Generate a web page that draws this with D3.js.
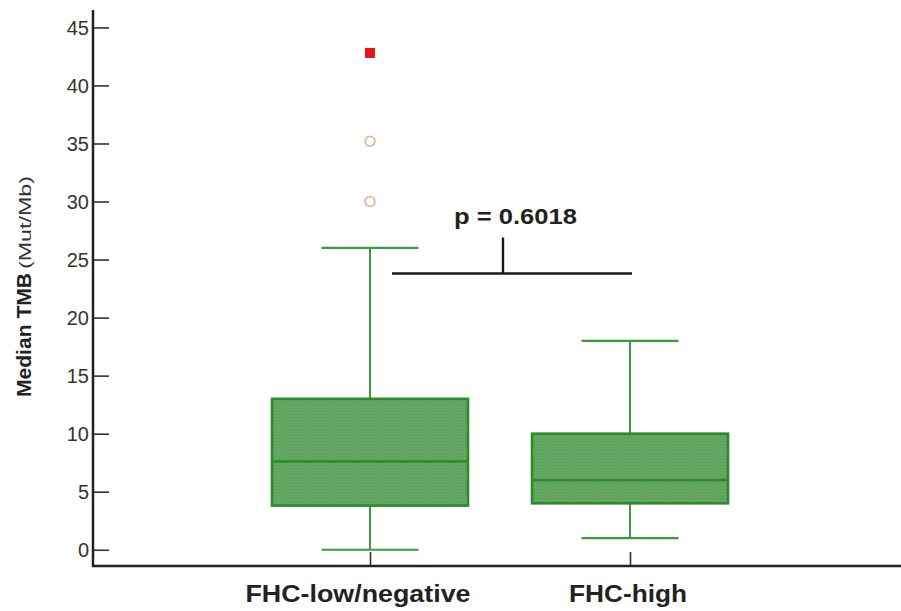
<!DOCTYPE html>
<html>
<head>
<meta charset="utf-8">
<script src="https://cdn.jsdelivr.net/npm/d3@7"></script>
<style>
  html, body { margin: 0; padding: 0; background: #fff; }
  svg { display: block; font-family: "Liberation Sans", Arial, Helvetica, sans-serif; }
</style>
</head>
<body>
<svg id="chart" width="901" height="611"></svg>
<script>
// ---- data ----
const categories = ["FHC-low/negative", "FHC-high"];
const whiskerLow = [0, 1];
const q1 = [3.8, 4];
const median = [7.6, 6];
const q3 = [13, 10];
const whiskerHigh = [26, 18];
const outlierGroup = ["FHC-low/negative", "FHC-low/negative", "FHC-low/negative"];
const outlierValues = [42.8, 35.2, 30.0];
const outlierKind = ["extreme", "mild", "mild"];
const yTicks = [0, 5, 10, 15, 20, 25, 30, 35, 40, 45];
const pLabel = "p = 0.6018";
const pBracketLevel = 23.8;
const pTickTop = 26.9;

// ---- layout ----
const svg = d3.select("#chart");
const axisLeft = 93, axisRight = 901, axisTop = 10, axisBottom = 566;

const y = d3.scaleLinear().domain([-1.4, 46.5]).range([axisBottom, axisTop]);
const x = d3.scalePoint().domain(categories).range([99, 901]).padding(1.0423);

const boxW = 196, capW = 97;

// pattern for stipple fill
const defs = svg.append("defs");
const pat = defs.append("pattern").attr("id", "stip").attr("width", 3).attr("height", 3)
  .attr("patternUnits", "userSpaceOnUse");
pat.append("rect").attr("width", 3).attr("height", 3).attr("fill", "#68aa68");
pat.append("rect").attr("x", 0).attr("y", 0).attr("width", 1).attr("height", 1).attr("fill", "#4b964b");
pat.append("rect").attr("x", 1.5).attr("y", 1.5).attr("width", 1).attr("height", 1).attr("fill", "#4b964b");

// ---- axes ----
const yAxis = d3.axisRight(y).tickValues(yTicks).tickSize(16).tickFormat(d3.format("d"));
const gy = svg.append("g").attr("transform", `translate(${axisLeft},0)`).call(yAxis);
gy.select(".domain").remove();
gy.selectAll(".tick line").attr("stroke", "#333").attr("stroke-width", 1.6);
gy.selectAll(".tick text").attr("x", -4).attr("text-anchor", "end").attr("dy", "0.36em")
  .attr("fill", "#333").style("font-size", "20px").style("font-family", "'Liberation Sans', Arial, sans-serif");

const xAxis = d3.axisTop(x).tickSize(14).tickFormat("");
const gx = svg.append("g").attr("transform", `translate(0,${axisBottom})`).call(xAxis);
gx.select(".domain").remove();
gx.selectAll(".tick line").attr("stroke", "#333").attr("stroke-width", 1.6);

// axis lines
svg.append("line").attr("x1", axisLeft).attr("x2", axisLeft).attr("y1", axisTop).attr("y2", axisBottom + 1)
  .attr("stroke", "#222").attr("stroke-width", 2.5);
svg.append("line").attr("x1", axisLeft - 1).attr("x2", axisRight).attr("y1", axisBottom).attr("y2", axisBottom)
  .attr("stroke", "#222").attr("stroke-width", 2.5);

// x labels
svg.append("g").selectAll("text").data(categories).join("text")
  .attr("x", (d, i) => x(d) + (i === 0 ? -12 : -2))
  .attr("y", 602)
  .attr("text-anchor", "middle")
  .attr("fill", "#222")
  .style("font-size", "23px").style("font-weight", "bold")
  .attr("textLength", (d, i) => i === 0 ? 225 : 118)
  .attr("lengthAdjust", "spacingAndGlyphs")
  .text(d => d);

// y label (two parts)
svg.append("text")
  .attr("transform", `translate(31,397) rotate(-90)`)
  .attr("text-anchor", "start")
  .attr("fill", "#222")
  .style("font-size", "20px").style("font-weight", "bold")
  .attr("textLength", 124).attr("lengthAdjust", "spacingAndGlyphs")
  .text("Median TMB");
svg.append("text")
  .attr("transform", `translate(31,269) rotate(-90)`)
  .attr("text-anchor", "start")
  .attr("fill", "#333")
  .style("font-size", "16px")
  .attr("textLength", 93).attr("lengthAdjust", "spacingAndGlyphs")
  .text("(Mut/Mb)");

// ---- boxes ----
const green = "#2e8b2e", whiskerGreen = "#3c9c3c";
const boxes = svg.append("g");
categories.forEach((c, i) => {
  const cx = x(c);
  const g = boxes.append("g");
  g.append("line").attr("x1", cx).attr("x2", cx).attr("y1", y(q3[i])).attr("y2", y(whiskerHigh[i]))
    .attr("stroke", whiskerGreen).attr("stroke-width", 2);
  g.append("line").attr("x1", cx).attr("x2", cx).attr("y1", y(q1[i])).attr("y2", y(whiskerLow[i]))
    .attr("stroke", whiskerGreen).attr("stroke-width", 2);
  g.append("line").attr("x1", cx - capW / 2).attr("x2", cx + capW / 2).attr("y1", y(whiskerHigh[i])).attr("y2", y(whiskerHigh[i]))
    .attr("stroke", whiskerGreen).attr("stroke-width", 2.2);
  g.append("line").attr("x1", cx - capW / 2).attr("x2", cx + capW / 2).attr("y1", y(whiskerLow[i])).attr("y2", y(whiskerLow[i]))
    .attr("stroke", whiskerGreen).attr("stroke-width", 2.2);
  g.append("rect").attr("x", cx - boxW / 2).attr("width", boxW)
    .attr("y", y(q3[i])).attr("height", y(q1[i]) - y(q3[i]))
    .attr("fill", "url(#stip)").attr("stroke", green).attr("stroke-width", 2.6);
  g.append("line").attr("x1", cx - boxW / 2).attr("x2", cx + boxW / 2).attr("y1", y(median[i])).attr("y2", y(median[i]))
    .attr("stroke", green).attr("stroke-width", 2.6);
});

// outliers
const outs = svg.append("g");
outlierValues.forEach((v, i) => {
  const cx = x(outlierGroup[i]);
  if (outlierKind[i] === "extreme") {
    outs.append("rect").attr("x", cx - 5).attr("y", y(v) - 5).attr("width", 10).attr("height", 10)
      .attr("fill", "#e8131b");
  } else {
    outs.append("circle").attr("cx", cx).attr("cy", y(v)).attr("r", 4.8)
      .attr("fill", "#fff").attr("stroke", "#e8b394").attr("stroke-width", 1.8);
  }
});

// p-value bracket
const bx1 = x(categories[0]) + 22, bx2 = x(categories[1]) + 2, bmid = x(categories[0]) + 133;
svg.append("line").attr("x1", bx1).attr("x2", bx2).attr("y1", y(pBracketLevel)).attr("y2", y(pBracketLevel))
  .attr("stroke", "#1a1a1a").attr("stroke-width", 2.4);
svg.append("line").attr("x1", bmid).attr("x2", bmid).attr("y1", y(pBracketLevel)).attr("y2", y(pTickTop))
  .attr("stroke", "#1a1a1a").attr("stroke-width", 2.4);
svg.append("text").attr("x", 515.5).attr("y", 223.5).attr("text-anchor", "middle")
  .attr("fill", "#222").style("font-size", "22px").style("font-weight", "bold")
  .attr("textLength", 123).attr("lengthAdjust", "spacingAndGlyphs")
  .text(pLabel);
</script>
</body>
</html>
